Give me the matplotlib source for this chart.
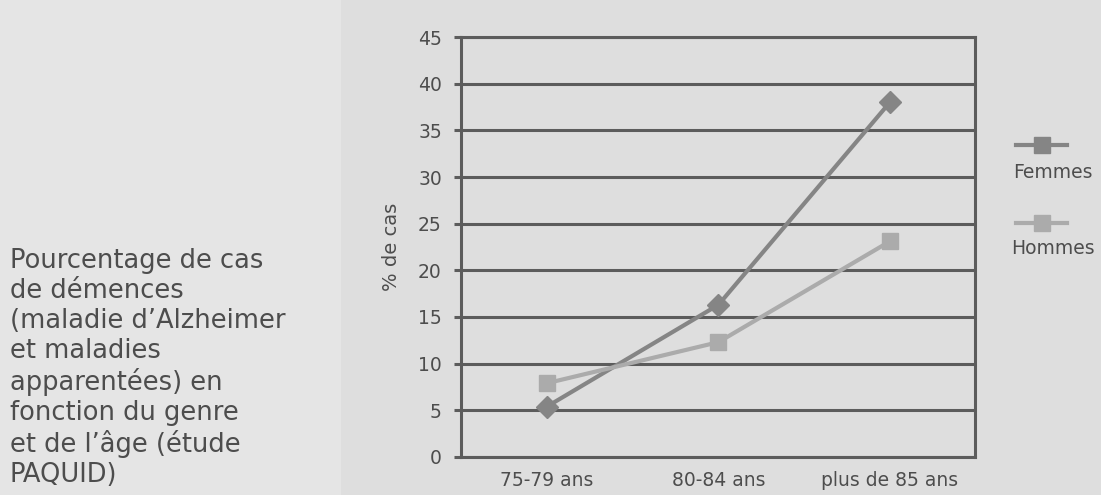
import matplotlib.pyplot as plt
from matplotlib.lines import Line2D
from matplotlib.patches import Rectangle

# Données (étude PAQUID)
ages = ["75-79 ans", "80-84 ans", "plus de 85 ans"]
femmes = [5.4, 16.3, 38.0]
hommes = [7.9, 12.3, 23.1]
yticks = [0, 5, 10, 15, 20, 25, 30, 35, 40, 45]

bg = "#dedede"
grid_col = "#5c5c5c"
txt_col = "#4d4d4d"
col_f = "#858585"
col_h = "#ababab"

plt.rcParams['font.family'] = ['DejaVu Sans']

fig = plt.figure(figsize=(11.01, 4.95), dpi=100, facecolor=bg)
fig.add_artist(Rectangle((0, 0), 0.31, 1, transform=fig.transFigure,
                         facecolor="#e5e5e5", edgecolor="none", zorder=0))

ax = fig.add_axes([0.419, 0.077, 0.467, 0.848])
ax.set_facecolor(bg)

x = range(len(ages))
ax.plot(x, femmes, color=col_f, lw=3, marker="D", ms=11, zorder=3)
ax.plot(x, hommes, color=col_h, lw=3, marker="s", ms=11, zorder=3)

ax.set_xlim(-0.5, 2.5)
ax.set_ylim(0, 45)
ax.set_yticks(yticks)
ax.set_xticks(list(x))
ax.set_xticklabels(ages)
ax.grid(axis="y", color=grid_col, lw=2.2, zorder=1)
ax.set_axisbelow(True)
for s in ax.spines.values():
    s.set_color(grid_col)
    s.set_linewidth(2.2)
ax.tick_params(axis="y", length=5, width=2.2, color=grid_col, pad=9,
               labelsize=13.5, labelcolor=txt_col)
ax.tick_params(axis="x", length=0, pad=10, labelsize=13.5, labelcolor=txt_col)
ax.set_ylabel("% de cas", fontsize=14, color=txt_col, labelpad=12)

# légende manuelle (texte sous le symbole)
fig.add_artist(Line2D([0.923, 0.969], [0.707, 0.707], transform=fig.transFigure,
                      color=col_f, lw=3))
fig.add_artist(Line2D([0.946], [0.707], transform=fig.transFigure,
                      color=col_f, marker="s", ms=12, linestyle="none"))
fig.text(0.92, 0.652, "Femmes", fontsize=13.5, color=txt_col, va="center")
fig.add_artist(Line2D([0.923, 0.969], [0.55, 0.55], transform=fig.transFigure,
                      color=col_h, lw=3))
fig.add_artist(Line2D([0.946], [0.55], transform=fig.transFigure,
                      color=col_h, marker="s", ms=12, linestyle="none"))
fig.text(0.918, 0.497, "Hommes", fontsize=13.5, color=txt_col, va="center")

# texte descriptif à gauche
desc = ("Pourcentage de cas\nde démences\n(maladie d\u2019Alzheimer\net maladies\n"
        "apparentées) en\nfonction du genre\net de l\u2019âge (étude\nPAQUID)")
fig.text(0.009, 0.5, desc, fontsize=18.5, color=txt_col, va="top", ha="left",
         linespacing=1.2)

fig.savefig("out.png", dpi=100, facecolor=bg)
